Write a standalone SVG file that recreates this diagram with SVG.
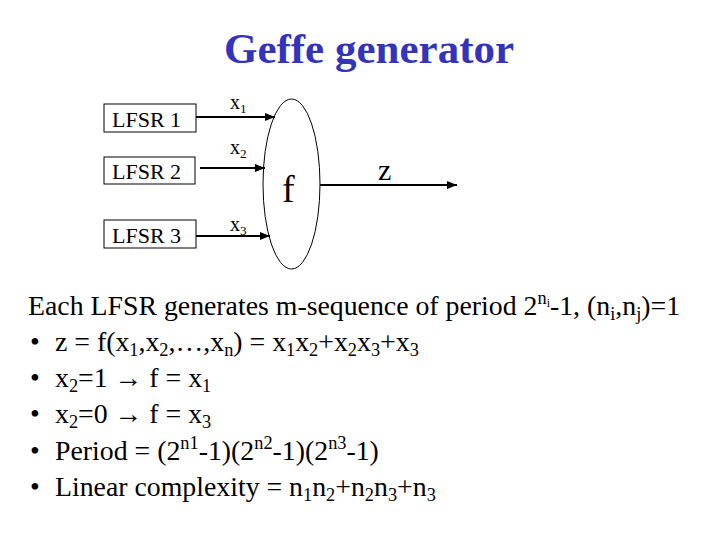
<svg xmlns="http://www.w3.org/2000/svg" width="720" height="540" viewBox="0 0 720 540">
<style>
.t{font-family:"Liberation Serif","Times New Roman",Tinos,"Noto Serif","DejaVu Serif",serif;fill:#000}
.box{fill:#fff;stroke:#000;stroke-width:1}
.ln{stroke:#000;stroke-width:2;fill:none;marker-end:url(#ah)}
.sub{font-size:66%}
</style>
<defs>
<marker id="ah" viewBox="0 0 10 10" refX="10" refY="5" markerWidth="5" markerHeight="5" orient="auto" markerUnits="strokeWidth">
<path d="M0,1 L10,5 L0,9 z" fill="#000"/>
</marker>
</defs>
<rect width="720" height="540" fill="#fff"/>
<text class="t" x="369" y="63" text-anchor="middle" font-weight="bold" font-size="43" style="fill:#3333bb">Geffe generator</text>
<g id="lfsr1"><rect class="box" x="104" y="104" width="92" height="28"/><text class="t" x="112" y="127" font-size="22">LFSR 1</text></g>
<g id="lfsr2"><rect class="box" x="104" y="157" width="91" height="27"/><text class="t" x="112" y="179" font-size="22">LFSR 2</text></g>
<g id="lfsr3"><rect class="box" x="104" y="220" width="92" height="28"/><text class="t" x="112" y="243" font-size="22">LFSR 3</text></g>
<g id="f"><ellipse cx="291.5" cy="184" rx="28.5" ry="85" fill="#fff" stroke="#000" stroke-width="1"/><text class="t" x="282" y="202" font-size="38">f</text></g>
<g id="connectors">
<line class="ln" x1="196" y1="117" x2="275" y2="117"/>
<line class="ln" x1="200" y1="168" x2="265" y2="168"/>
<line class="ln" x1="196" y1="236" x2="270" y2="236"/>
<line class="ln" x1="320" y1="185" x2="457" y2="185"/>
<text class="t" x="230" y="109" font-size="20">x<tspan class="sub" dy="4">1</tspan></text>
<text class="t" x="230" y="154" font-size="20">x<tspan class="sub" dy="4">2</tspan></text>
<text class="t" x="230" y="231" font-size="20">x<tspan class="sub" dy="4">3</tspan></text>
<text class="t" x="378" y="180" font-size="30">z</text>
</g>
<g id="body" font-size="27.8">
<text class="t" x="28" y="315">Each LFSR generates m-sequence of period 2<tspan class="sub" dy="-11">n</tspan><tspan font-size="12" dy="3">i</tspan><tspan dy="8">-1, (n</tspan><tspan class="sub" dy="5">i</tspan><tspan dy="-5">,n</tspan><tspan class="sub" dy="5">j</tspan><tspan dy="-5">)=1</tspan></text>
<text class="t" x="30" y="351">•</text>
<text class="t" x="55" y="351">z = f(x<tspan class="sub" dy="5">1</tspan><tspan dy="-5">,x</tspan><tspan class="sub" dy="5">2</tspan><tspan dy="-5">,…,x</tspan><tspan class="sub" dy="5">n</tspan><tspan dy="-5">) = x</tspan><tspan class="sub" dy="5">1</tspan><tspan dy="-5">x</tspan><tspan class="sub" dy="5">2</tspan><tspan dy="-5">+x</tspan><tspan class="sub" dy="5">2</tspan><tspan dy="-5">x</tspan><tspan class="sub" dy="5">3</tspan><tspan dy="-5">+x</tspan><tspan class="sub" dy="5">3</tspan></text>
<text class="t" x="30" y="387">•</text>
<text class="t" x="55" y="387">x<tspan class="sub" dy="5">2</tspan><tspan dy="-5">=1 → f = x</tspan><tspan class="sub" dy="5">1</tspan></text>
<text class="t" x="30" y="423">•</text>
<text class="t" x="55" y="423">x<tspan class="sub" dy="5">2</tspan><tspan dy="-5">=0 → f = x</tspan><tspan class="sub" dy="5">3</tspan></text>
<text class="t" x="30" y="460">•</text>
<text class="t" x="55" y="460">Period = (2<tspan class="sub" dy="-11">n1</tspan><tspan dy="11">-1)(2</tspan><tspan class="sub" dy="-11">n2</tspan><tspan dy="11">-1)(2</tspan><tspan class="sub" dy="-11">n3</tspan><tspan dy="11">-1)</tspan></text>
<text class="t" x="30" y="496">•</text>
<text class="t" x="55" y="496">Linear complexity = n<tspan class="sub" dy="5">1</tspan><tspan dy="-5">n</tspan><tspan class="sub" dy="5">2</tspan><tspan dy="-5">+n</tspan><tspan class="sub" dy="5">2</tspan><tspan dy="-5">n</tspan><tspan class="sub" dy="5">3</tspan><tspan dy="-5">+n</tspan><tspan class="sub" dy="5">3</tspan></text>
</g>
</svg>
